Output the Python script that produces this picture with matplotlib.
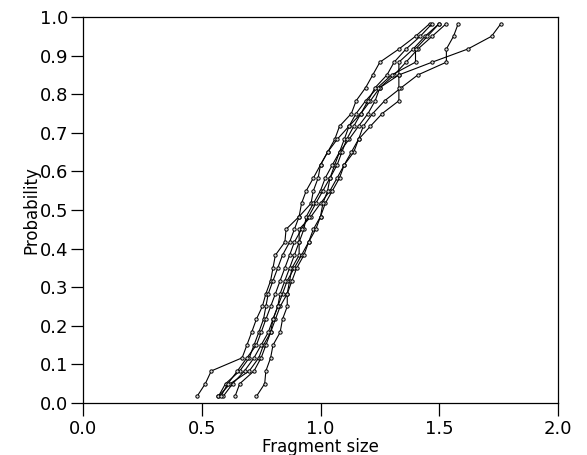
import matplotlib.pyplot as plt

plt.rcParams['font.family'] = ['DejaVu Sans']

# plotting positions (i - 0.5) / 30
prob = [0.017, 0.050, 0.083, 0.117, 0.150, 0.183, 0.217, 0.250, 0.283, 0.317,
        0.350, 0.383, 0.417, 0.450, 0.483, 0.517, 0.550, 0.583, 0.617, 0.650,
        0.683, 0.717, 0.750, 0.783, 0.817, 0.850, 0.883, 0.917, 0.950, 0.983]

run_a = [0.48, 0.515, 0.54, 0.67, 0.69, 0.71, 0.73, 0.755, 0.77, 0.79,
         0.80, 0.81, 0.85, 0.855, 0.91, 0.96, 0.97, 0.99, 1.00, 1.03,
         1.06, 1.08, 1.13, 1.15, 1.19, 1.22, 1.25, 1.33, 1.40, 1.46]
run_b = [0.57, 0.60, 0.66, 0.70, 0.72, 0.74, 0.76, 0.77, 0.78, 0.80,
         0.82, 0.84, 0.87, 0.89, 0.91, 0.92, 0.94, 0.97, 1.00, 1.03,
         1.07, 1.12, 1.17, 1.21, 1.25, 1.31, 1.36, 1.41, 1.47, 1.53]
run_c = [0.57, 0.62, 0.70, 0.74, 0.76, 0.79, 0.81, 0.83, 0.86, 0.87,
         0.88, 0.91, 0.91, 0.91, 0.96, 1.00, 1.04, 1.07, 1.10, 1.14,
         1.16, 1.18, 1.22, 1.27, 1.34, 1.41, 1.53, 1.53, 1.56, 1.58]
run_d = [0.64, 0.66, 0.72, 0.75, 0.77, 0.79, 0.80, 0.82, 0.84, 0.86,
         0.89, 0.92, 0.95, 0.97, 1.00, 1.02, 1.05, 1.08, 1.10, 1.13,
         1.16, 1.21, 1.26, 1.33, 1.33, 1.33, 1.33, 1.39, 1.44, 1.50]
run_e = [0.73, 0.765, 0.77, 0.79, 0.80, 0.83, 0.84, 0.86, 0.86, 0.88,
         0.90, 0.93, 0.95, 0.98, 1.00, 1.01, 1.03, 1.04, 1.06, 1.08,
         1.12, 1.16, 1.20, 1.23, 1.25, 1.33, 1.47, 1.62, 1.72, 1.76]
run_f = [0.59, 0.63, 0.68, 0.72, 0.75, 0.78, 0.80, 0.82, 0.83, 0.85,
         0.87, 0.89, 0.91, 0.93, 0.94, 0.97, 1.00, 1.02, 1.05, 1.08,
         1.10, 1.12, 1.15, 1.19, 1.24, 1.30, 1.40, 1.40, 1.45, 1.50]
run_g = [0.58, 0.61, 0.65, 0.69, 0.73, 0.75, 0.77, 0.79, 0.81, 0.83,
         0.85, 0.87, 0.89, 0.92, 0.95, 0.98, 1.01, 1.04, 1.07, 1.09,
         1.11, 1.14, 1.17, 1.20, 1.23, 1.28, 1.31, 1.36, 1.42, 1.47]

runs = [run_a, run_b, run_c, run_d, run_e, run_f, run_g]

fig = plt.figure(figsize=(5.87, 4.55), dpi=100)
ax = fig.add_axes([0.1414, 0.1143, 0.8092, 0.8483])

for xs in runs:
    ax.plot(xs, prob, color='black', lw=0.8, marker='o', ms=2.4,
            mfc='#dddddd', mec='black', mew=0.7)

ax.set_xlim(0, 2.0)
ax.set_ylim(0, 1.0)
ax.set_xticks([0.0, 0.5, 1.0, 1.5, 2.0])
ax.set_yticks([i / 10 for i in range(11)])
ax.xaxis.set_major_formatter(plt.FormatStrFormatter('%.1f'))
ax.yaxis.set_major_formatter(plt.FormatStrFormatter('%.1f'))
ax.tick_params(direction='out', length=9, width=0.9, labelsize=13, pad=1.5)
ax.tick_params(axis='x', pad=3)
for s in ax.spines.values():
    s.set_linewidth(0.9)

ax.set_xlabel('Fragment size', fontsize=12, labelpad=0)
ax.set_ylabel('Probability', fontsize=12, labelpad=0)

fig.savefig('out.png', dpi=100)
